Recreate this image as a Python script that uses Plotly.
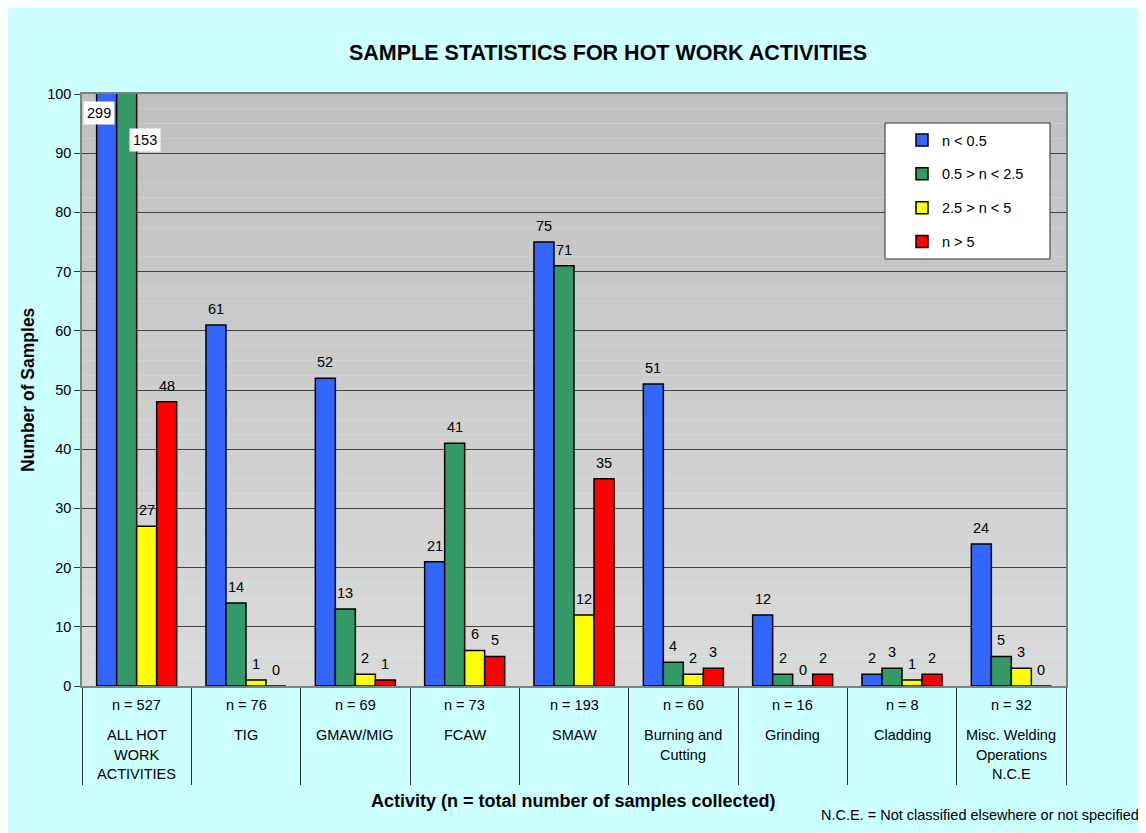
import plotly.graph_objects as go

categories = ["ALL HOT WORK ACTIVITIES", "TIG", "GMAW/MIG", "FCAW", "SMAW",
              "Burning and Cutting", "Grinding", "Cladding",
              "Misc. Welding Operations N.C.E"]
label_lines = [["ALL HOT", "WORK", "ACTIVITIES"], ["TIG"], ["GMAW/MIG"], ["FCAW"],
               ["SMAW"], ["Burning and", "Cutting"], ["Grinding"], ["Cladding"],
               ["Misc. Welding", "Operations", "N.C.E"]]
n_totals = [527, 76, 69, 73, 193, 60, 16, 8, 32]

series_names = ["n < 0.5", "0.5 > n < 2.5", "2.5 > n < 5", "n > 5"]
blue_vals = [299, 61, 52, 21, 75, 51, 12, 2, 24]
green_vals = [153, 14, 13, 41, 71, 4, 2, 3, 5]
yellow_vals = [27, 1, 2, 6, 12, 2, 0, 1, 3]
red_vals = [48, 0, 1, 5, 35, 3, 2, 2, 0]
series_vals = [blue_vals, green_vals, yellow_vals, red_vals]
series_colors = ["#3366FF", "#339966", "#FFFF00", "#FF0000"]

Y_MAX = 100
FONT = "Liberation Sans, Arial, sans-serif"
FS = 14.5

W, H = 1146, 833
ML, MR, MT, MB = 74, 88, 86, 155
PW, PH = W - ML - MR, H - MT - MB
BARGAP = 0.268
NSER = len(series_vals)
CAT_W = PW / len(categories)
BAR_W = CAT_W * (1 - BARGAP) / NSER


def px_to_py(py):
    return (H - MB - py) / PH


def px_to_px(px):
    return (px - ML) / PW


fig = go.Figure()
for name, vals, col in zip(series_names, series_vals, series_colors):
    fig.add_trace(go.Bar(
        x=categories, y=vals, name=name, legendgroup=name,
        marker=dict(color=col, line=dict(color="black", width=1.5)),
        hoverinfo="x+y+name",
    ))

shapes = []
# gradient plot background
nb = 40
for i in range(nb):
    t = i / (nb - 1)
    g = int(round(0xC0 + (0xDA - 0xC0) * t))
    shapes.append(dict(type="rect", xref="x domain", yref="y domain",
                       x0=0, x1=1, y0=1 - (i + 1) / nb, y1=1 - i / nb,
                       fillcolor=f"rgb({g},{g},{g})", line=dict(width=0),
                       layer="below"))
# legend box
shapes.append(dict(type="rect", xref="paper", yref="paper",
                   x0=px_to_px(877), x1=px_to_px(1042),
                   y0=px_to_py(251), y1=px_to_py(115),
                   fillcolor="white", line=dict(color="#333333", width=1),
                   layer="above"))

annotations = []
annotations.append(dict(text="<b>SAMPLE STATISTICS FOR HOT WORK ACTIVITIES</b>",
                        xref="paper", yref="paper", x=px_to_px(600), y=px_to_py(45),
                        showarrow=False, font=dict(family=FONT, size=21.5, color="black"),
                        xanchor="center", yanchor="middle"))
annotations.append(dict(text="<b>Activity (n = total number of samples collected)</b>",
                        xref="paper", yref="paper", x=px_to_px(565), y=px_to_py(793),
                        showarrow=False, font=dict(family=FONT, size=18, color="black"),
                        xanchor="center", yanchor="middle"))
annotations.append(dict(text="<b>Number of Samples</b>", textangle=-90,
                        xref="paper", yref="paper", x=px_to_px(20), y=px_to_py(382),
                        showarrow=False, font=dict(family=FONT, size=17.5, color="black"),
                        xanchor="center", yanchor="middle"))
annotations.append(dict(text="N.C.E. = Not classified elsewhere or not specified",
                        xref="paper", yref="paper", x=px_to_px(1133), y=px_to_py(807),
                        showarrow=False, font=dict(family=FONT, size=FS, color="black"),
                        xanchor="right", yanchor="middle"))

for cat, n, lines in zip(categories, n_totals, label_lines):
    annotations.append(dict(text=f"n = {n}", xref="x", yref="paper", x=cat,
                            y=px_to_py(697), showarrow=False,
                            font=dict(family=FONT, size=FS, color="black"),
                            xanchor="center", yanchor="middle"))
    for k, ln in enumerate(lines):
        annotations.append(dict(text=ln, xref="x", yref="paper", x=cat,
                                y=px_to_py(727 + 19.5 * k), showarrow=False,
                                font=dict(family=FONT, size=FS, color="black"),
                                xanchor="center", yanchor="middle"))

# value labels above bars
for si, vals in enumerate(series_vals):
    off = (si - (NSER - 1) / 2) * BAR_W
    for cat, v in zip(categories, vals):
        if v > Y_MAX:
            continue
        annotations.append(dict(text=str(v), xref="x", yref="y", x=cat, y=v,
                                xshift=off, yshift=6, showarrow=False,
                                xanchor="center", yanchor="bottom",
                                font=dict(family=FONT, size=FS, color="black")))

# labels for clipped bars
annotations.append(dict(text=str(blue_vals[0]), xref="x", yref="y", x=categories[0],
                        y=96.8, xshift=-38, showarrow=False, bgcolor="white",
                        borderpad=3, font=dict(family=FONT, size=FS, color="black")))
annotations.append(dict(text=str(green_vals[0]), xref="x", yref="y", x=categories[0],
                        y=92.3, xshift=8, showarrow=False, bgcolor="white",
                        borderpad=3, font=dict(family=FONT, size=FS, color="black")))

fig.update_layout(
    width=W, height=H,
    margin=dict(l=ML, r=MR, t=MT, b=MB),
    paper_bgcolor="#CCFFFF", plot_bgcolor="rgba(0,0,0,0)",
    barmode="group", bargap=BARGAP, bargroupgap=0,
    font=dict(family=FONT, size=FS, color="black"),
    shapes=shapes, annotations=annotations,
    legend=dict(x=px_to_px(894), y=px_to_py(116), xanchor="left", yanchor="top",
                bgcolor="rgba(0,0,0,0)", borderwidth=0,
                font=dict(family=FONT, size=FS, color="black"),
                tracegroupgap=12),
    showlegend=True,
)
fig.update_xaxes(type="category", showticklabels=False, ticks="outside",
                 tickson="boundaries", ticklen=97, tickcolor="#333333", tickwidth=1,
                 showline=True, linecolor="#808080", linewidth=1.5, mirror=True,
                 showgrid=False, range=[-0.5, len(categories) - 0.5])
fig.update_yaxes(range=[0, Y_MAX], dtick=10, ticks="outside", ticklen=6,
                 tickcolor="#333333", showline=True, linecolor="#808080",
                 linewidth=1.5, mirror=True, showgrid=True, gridcolor="#444444",
                 gridwidth=1, zeroline=False,
                 tickfont=dict(family=FONT, size=FS, color="black"))

fig.write_html("out.html")
